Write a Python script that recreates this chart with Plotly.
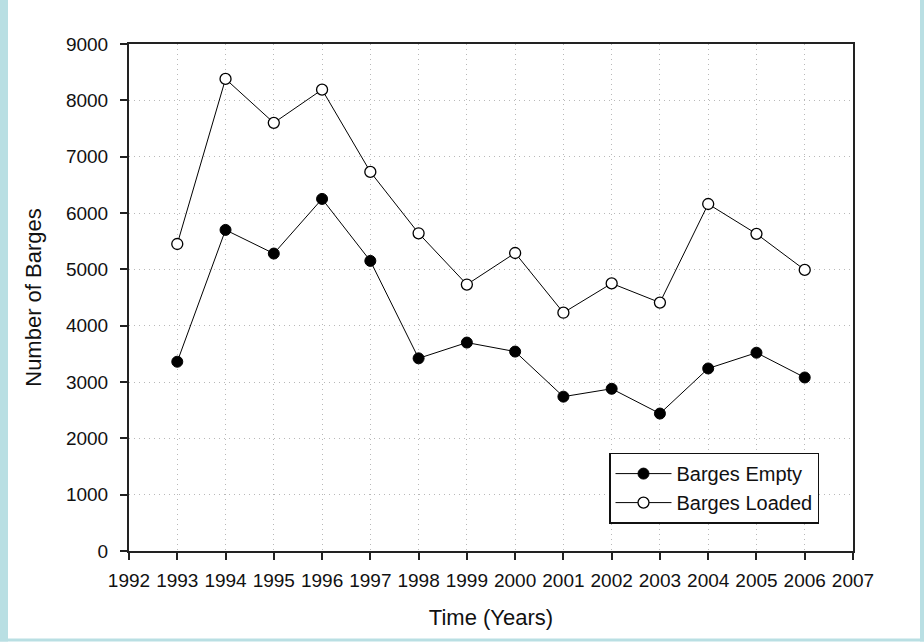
import plotly.graph_objects as go

years = list(range(1993, 2007))
barges_empty = [3360, 5700, 5280, 6250, 5150, 3420, 3700, 3540, 2740, 2880, 2440, 3240, 3520, 3080]
barges_loaded = [5450, 8380, 7600, 8190, 6730, 5640, 4730, 5290, 4230, 4750, 4410, 6160, 5630, 4990]
x_ticks = list(range(1992, 2008))
y_ticks = list(range(0, 9001, 1000))

W, H = 924, 642
ML, MR, MT, MB = 129, 71, 44, 90.5
PW, PH = W - ML - MR, H - MT - MB
FONT = "Liberation Sans, Arial, sans-serif"
BLUE = "#b9dfe3"

fig = go.Figure()
fig.add_trace(go.Scatter(
    x=years, y=barges_empty, name="Barges Empty", mode="lines+markers",
    line=dict(color="black", width=1),
    marker=dict(symbol="circle", size=11, color="black", line=dict(color="black", width=1)),
))
fig.add_trace(go.Scatter(
    x=years, y=barges_loaded, name="Barges Loaded", mode="lines+markers",
    line=dict(color="black", width=1),
    marker=dict(symbol="circle", size=11, color="white", line=dict(color="black", width=1.3)),
))

def px_x(p):
    return (p - ML) / PW

def px_y(p):
    return 1 - (p - MT) / PH

strips = [
    (0, 0, 8, H),
    (920, 0, W, H),
    (0, 639, W, H),
]
shapes = []
for x0, y0, x1, y1 in strips:
    shapes.append(dict(type="rect", xref="paper", yref="paper",
                       x0=px_x(x0), x1=px_x(x1), y0=px_y(y1), y1=px_y(y0),
                       fillcolor=BLUE, line=dict(width=0), layer="above"))

axis_common = dict(
    showline=True, linecolor="#222", linewidth=2, mirror=True,
    ticks="outside", tickcolor="#222", tickwidth=1.5,
    showgrid=True, gridcolor="#b8b8b8", gridwidth=1, griddash="1px,4px",
    zeroline=False, tickfont=dict(family=FONT, size=19, color="#111"),
)

fig.update_layout(
    width=W, height=H,
    margin=dict(l=ML, r=MR, t=MT, b=MB, autoexpand=False),
    paper_bgcolor="white", plot_bgcolor="white",
    font=dict(family=FONT, color="#111"),
    showlegend=True,
    legend=dict(
        x=px_x(609), y=px_y(453), xanchor="left", yanchor="top",
        bgcolor="white", bordercolor="#111", borderwidth=1.5,
        font=dict(family=FONT, size=20, color="#111"),
        itemwidth=56, tracegroupgap=0,
    ),
    xaxis=dict(
        range=[1992, 2007], tickvals=x_ticks, ticktext=[str(v) for v in x_ticks],
        ticklen=7, ticklabelstandoff=4,
        title=dict(text="Time (Years)", font=dict(family=FONT, size=22, color="#111"), standoff=20),
        **axis_common,
    ),
    yaxis=dict(
        range=[0, 9000], tickvals=y_ticks, ticktext=[str(v) for v in y_ticks],
        ticklen=7, ticklabelstandoff=8,
        title=dict(text="Number of Barges", font=dict(family=FONT, size=22, color="#111"), standoff=18),
        **axis_common,
    ),
    shapes=shapes,
)

fig.write_html(
    "out.html",
    config={"displayModeBar": False},
    post_script="document.body.style.margin='0';document.body.style.padding='0';document.body.style.overflow='hidden';",
)
